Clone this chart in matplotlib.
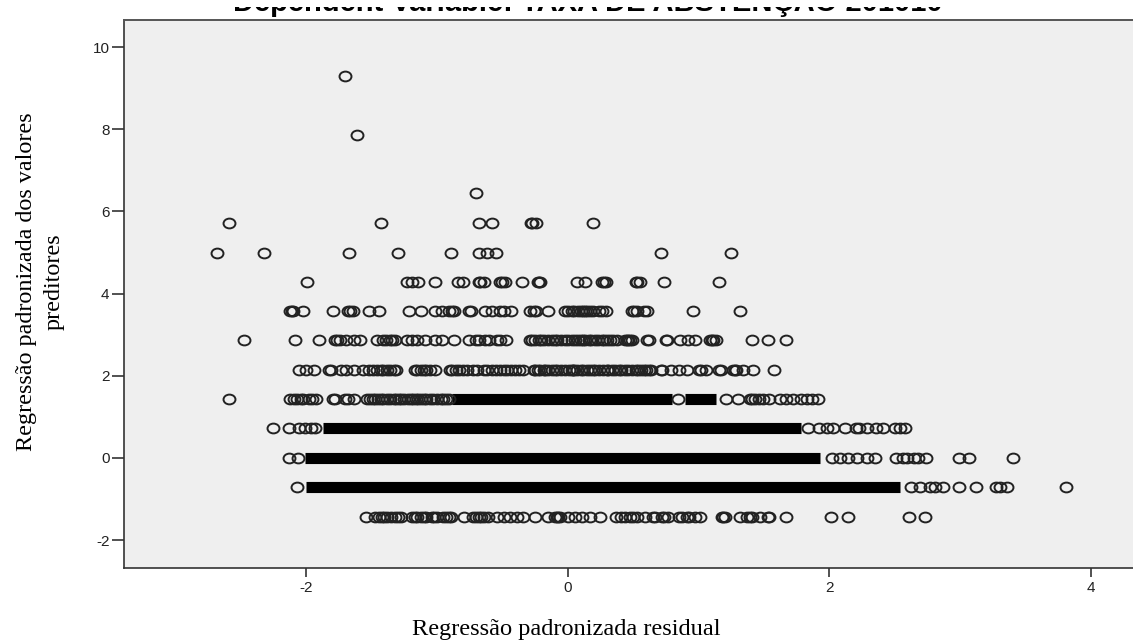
import matplotlib
matplotlib.use('Agg')
import matplotlib.pyplot as plt
from matplotlib.path import Path
from matplotlib.transforms import Affine2D, Bbox

title_text = 'Dependent Variable: TAXA DE ABSTENÇÃO 201010'
xlabel_text = 'Regressão padronizada residual'
ylabel_text = 'Regressão padronizada dos valores\npreditores'
xticks = [-2, 0, 2, 4]
yticks = [-2, 0, 2, 4, 6, 8, 10]
xtick_labels = ['-2', '0', '2', '4']
ytick_labels = ['-2', '0', '2', '4', '6', '8', '10']

# x values, one list per horizontal row of points
row_930 = [-1.70]
row_787 = [-1.61]
row_644 = [-0.70]
row_572 = [-2.59, -1.43, -0.68, -0.58, -0.28, -0.27, -0.24, 0.19]
row_500 = [-2.68, -2.32, -1.67, -1.30, -0.89, -0.68, -0.62, -0.55, 0.71, 1.25]
row_429 = [-1.99, -1.23, -1.19, -1.14, -1.01, -0.84, -0.80, -0.68, -0.67, -0.64, -0.52,
           -0.50, -0.48, -0.35, -0.23, -0.22, -0.21, 0.07, 0.13, 0.26, 0.28, 0.29, 0.52,
           0.53, 0.55, 0.74, 1.16]
row_358 = [-2.12, -2.11, -2.10, -2.02, -1.79, -1.68, -1.66, -1.64, -1.52, -1.44, -1.21,
           -1.12, -1.01, -0.96, -0.91, -0.88, -0.87, -0.75, -0.74, -0.63, -0.58, -0.52,
           -0.49, -0.43, -0.29, -0.26, -0.24, -0.15, -0.02, 0.00, 0.03, 0.05, 0.08, 0.10,
           0.12, 0.13, 0.15, 0.17, 0.19, 0.24, 0.26, 0.29, 0.49, 0.51, 0.53, 0.58, 0.61,
           0.96, 1.32]
row_286 = [-2.47, -2.08, -1.90, -1.78, -1.76, -1.74, -1.69, -1.63, -1.59, -1.46, -1.41,
           -1.39, -1.36, -1.34, -1.32, -1.23, -1.19, -1.15, -1.09, -1.01, -0.96, -0.87,
           -0.75, -0.70, -0.68, -0.63, -0.60, -0.54, -0.52, -0.47, -0.29, -0.27, -0.25,
           -0.22, -0.20, -0.18, -0.15, -0.12, -0.10, -0.08, -0.05, -0.02, 0.00, 0.03, 0.06,
           0.08, 0.10, 0.12, 0.13, 0.16, 0.18, 0.21, 0.23, 0.26, 0.28, 0.30, 0.32, 0.35,
           0.38, 0.44, 0.45, 0.46, 0.48, 0.49, 0.61, 0.62, 0.75, 0.76, 0.86, 0.92, 0.97,
           1.09, 1.10, 1.11, 1.13, 1.41, 1.53, 1.67]
row_215 = [-2.05, -2.00, -1.94, -1.82, -1.81, -1.73, -1.69, -1.63, -1.56, -1.52, -1.49,
           -1.46, -1.43, -1.41, -1.38, -1.36, -1.33, -1.31, -1.17, -1.15, -1.12, -1.10,
           -1.08, -1.05, -1.01, -0.90, -0.88, -0.85, -0.83, -0.80, -0.77, -0.72, -0.69,
           -0.64, -0.62, -0.58, -0.55, -0.52, -0.49, -0.46, -0.43, -0.40, -0.37, -0.34,
           -0.26, -0.25, -0.23, -0.21, -0.18, -0.17, -0.15, -0.12, -0.10, -0.08, -0.05,
           -0.02, 0.01, 0.03, 0.04, 0.05, 0.07, 0.10, 0.12, 0.15, 0.17, 0.19, 0.21, 0.24,
           0.27, 0.30, 0.31, 0.34, 0.36, 0.39, 0.41, 0.44, 0.46, 0.49, 0.52, 0.54, 0.56,
           0.58, 0.60, 0.62, 0.64, 0.71, 0.72, 0.79, 0.85, 0.91, 1.00, 1.02, 1.06, 1.16,
           1.17, 1.26, 1.28, 1.29, 1.34, 1.42, 1.58]
row_143 = [-2.59, -2.12, -2.09, -2.07, -2.04, -2.02, -1.98, -1.95, -1.92, -1.79, -1.78,
           -1.70, -1.68, -1.63, -1.53, -1.51, -1.49, -1.47, -1.45, -1.43, -1.41, -1.38,
           -1.36, -1.33, -1.31, -1.29, -1.27, -1.25, -1.22, -1.20, -1.18, -1.16, -1.14,
           -1.12, -1.10, -1.08, -1.05, -1.03, -1.00, -0.97, -0.95, -0.93, -0.91, 0.84,
           1.21, 1.30, 1.39, 1.41, 1.43, 1.46, 1.49, 1.54, 1.62, 1.67, 1.72, 1.78, 1.83,
           1.87, 1.91]
row_072 = [-2.25, -2.13, -2.05, -2.01, -1.96, -1.93, 1.84, 1.92, 1.98, 2.03, 2.12, 2.20,
           2.23, 2.29, 2.36, 2.41, 2.50, 2.54, 2.58]
row_000 = [-2.13, -2.06, 2.02, 2.08, 2.14, 2.21, 2.29, 2.35, 2.51, 2.56, 2.59, 2.65, 2.68,
           2.74, 2.99, 3.07, 3.40]
row_m072 = [-2.07, 2.62, 2.69, 2.77, 2.81, 2.87, 2.99, 3.12, 3.27, 3.30, 3.36, 3.81]
row_m143 = [-1.54, -1.47, -1.44, -1.42, -1.40, -1.38, -1.35, -1.32, -1.30, -1.27, -1.19,
            -1.17, -1.15, -1.12, -1.10, -1.08, -1.04, -1.02, -1.00, -0.95, -0.93, -0.91,
            -0.89, -0.79, -0.72, -0.70, -0.68, -0.66, -0.64, -0.61, -0.54, -0.49, -0.44,
            -0.39, -0.34, -0.25, -0.15, -0.10, -0.08, -0.07, -0.06, 0.00, 0.06, 0.11, 0.17,
            0.25, 0.37, 0.41, 0.44, 0.48, 0.50, 0.53, 0.59, 0.65, 0.67, 0.72, 0.74, 0.77,
            0.85, 0.87, 0.91, 0.93, 0.97, 1.01, 1.18, 1.19, 1.20, 1.32, 1.37, 1.39, 1.41,
            1.47, 1.53, 1.54, 1.67, 2.01, 2.14, 2.61, 2.73]

row_levels = [9.30, 7.87, 6.44, 5.72, 5.00, 4.29, 3.58, 2.86, 2.15, 1.43, 0.72, 0.00, -0.72, -1.43]
rows = [row_930, row_787, row_644, row_572, row_500, row_429, row_358, row_286, row_215,
        row_143, row_072, row_000, row_m072, row_m143]

# stretches where the circles overlap so much that the row reads as solid black
solid_levels = [1.43, 1.43, 0.72, 0.00, -0.72]
solid_starts = [-0.88, 0.90, -1.87, -2.01, -2.00]
solid_ends = [0.80, 1.13, 1.78, 1.93, 2.54]

ring = Path.unit_circle().transformed(Affine2D().scale(1, 0.82))

fig = plt.figure(figsize=(11.33, 6.42), dpi=100)
ax = fig.add_axes([124 / 1133, 1 - 568 / 642, 1009 / 1133, 548 / 642])
ax.set_facecolor('#efefef')
ax.set_xlim(-3.39, 4.32)
ax.set_ylim(-2.68, 10.66)

ax.hlines(solid_levels, solid_starts, solid_ends, color='black', linewidth=8, capstyle='butt')
for level, xs in zip(row_levels, rows):
    ax.plot(xs, [level] * len(xs), linestyle='none', marker=ring, markersize=8.6,
            markerfacecolor='none', markeredgecolor='#222222', markeredgewidth=1.4)

ax.spines['right'].set_visible(False)
for side in ['left', 'bottom']:
    ax.spines[side].set_color('#333333')
    ax.spines[side].set_linewidth(1.2)
ax.spines['top'].set_color('#555555')
ax.spines['top'].set_linewidth(1.4)

ax.set_xticks(xticks)
ax.set_yticks(yticks)
ax.set_xticklabels(xtick_labels)
ax.set_yticklabels(ytick_labels)
ax.tick_params(axis='x', length=6.5, width=1.2, color='#333333', labelcolor='#222222',
               labelsize=11, pad=3)
ax.tick_params(axis='y', length=8.5, width=1.2, color='#333333', labelcolor='#222222',
               labelsize=11, pad=2)
for lab in ax.get_xticklabels() + ax.get_yticklabels():
    lab.set_family('Liberation Sans')

# the title is cut off in the source picture, only the lower edge of the letters shows
title = fig.text(588 / 1133, 1 - 11 / 642, title_text, family='Liberation Sans', weight='bold',
                 fontsize=21, ha='center', va='baseline', color='black')
title.set_clip_box(Bbox.from_extents(0, 0, 1133, 642 - 6.5))
title.set_clip_on(True)

fig.text(566.5 / 1133, 1 - 635 / 642, xlabel_text, family='Liberation Serif', fontsize=17.6,
         ha='center', va='baseline', color='black')
fig.text(40 / 1133, 1 - 281.5 / 642, ylabel_text, family='Liberation Serif', fontsize=17.4,
         rotation=90, ha='center', va='center', multialignment='center', linespacing=1.4,
         color='black')

plt.savefig('out.png', dpi=100)
plt.close()
